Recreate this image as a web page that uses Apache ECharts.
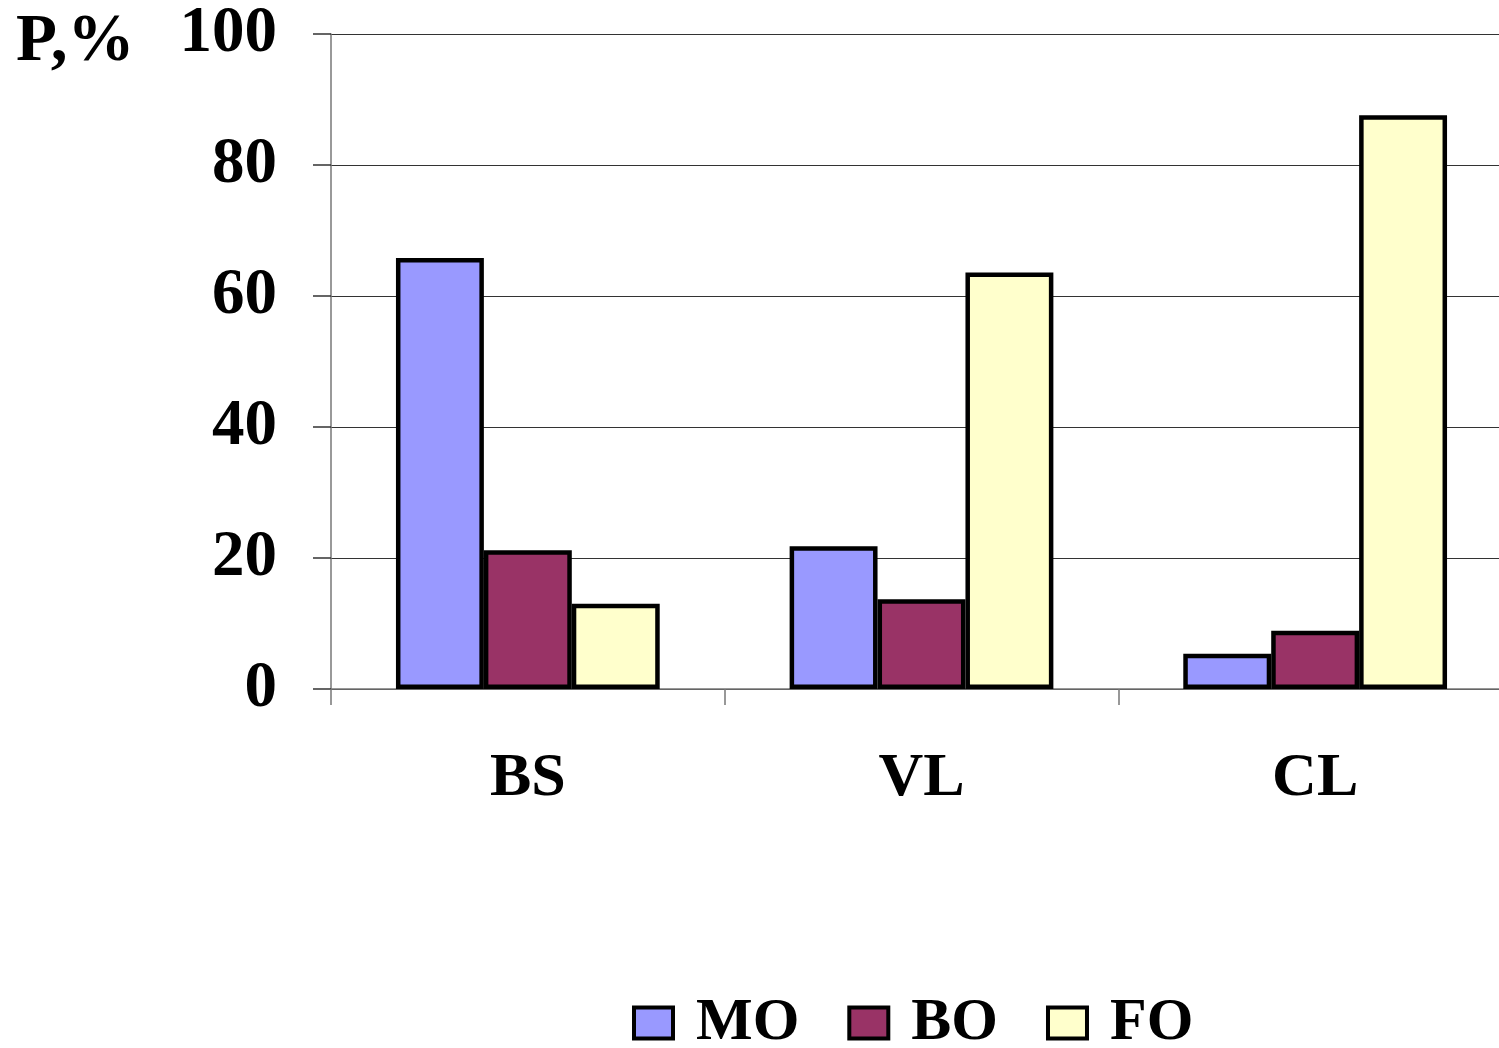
<!DOCTYPE html>
<html>
<head>
<meta charset="utf-8">
<script src="https://cdn.jsdelivr.net/npm/echarts@6/dist/echarts.min.js"></script>
<style>
  html, body { margin: 0; padding: 0; background: #fff; }
  #chart { width: 1499px; height: 1048px; }
</style>
</head>
<body>
<div id="chart"></div>
<script>
// Share of each fraction (%) by site
const categories = ['BS', 'VL', 'CL'];
const seriesNames = ['MO', 'BO', 'FO'];
const moValues = [65.8, 21.8, 5.4];
const boValues = [21.2, 13.7, 8.9];
const foValues = [13.0, 63.6, 87.6];
const yTicks = [0, 20, 40, 60, 80, 100];

const colors = ['#9999FF', '#993366', '#FFFFCC'];
const FONT = "'Liberation Serif', 'Times New Roman', serif";

const chart = echarts.init(document.getElementById('chart'), null, { renderer: 'canvas' });

function barSeries(name, data, color) {
  return {
    name: name,
    type: 'bar',
    data: data,
    barGap: '0%',
    barCategoryGap: '33%',
    itemStyle: { color: color, borderColor: '#000', borderWidth: 4.5 },
    emphasis: { disabled: true }
  };
}

chart.setOption({
  animation: false,
  backgroundColor: '#fff',
  // the plot area runs a little past the right edge of the canvas
  grid: { left: 331, width: 1181, top: 34, height: 655, containLabel: false, outerBoundsMode: 'none' },
  graphic: [{
    type: 'text',
    left: 16,
    top: 9,
    style: {
      text: 'P,%',
      font: 'bold 67px ' + FONT,
      fill: '#000'
    }
  }],
  legend: {
    data: seriesNames,
    top: 993,
    left: 632,
    padding: 0,
    itemWidth: 39,
    itemHeight: 31,
    itemGap: 48,
    icon: 'rect',
    itemStyle: { borderColor: '#000', borderWidth: 4 },
    textStyle: { fontFamily: FONT, fontWeight: 'bold', fontSize: 60, color: '#000', padding: [0, 0, 0, 18] }
  },
  xAxis: {
    type: 'category',
    data: categories,
    axisLine: { show: true, lineStyle: { color: '#777', width: 1.5 } },
    axisTick: { show: true, length: 16, lineStyle: { color: '#777', width: 1.5 } },
    axisLabel: {
      margin: 59,
      fontFamily: FONT, fontWeight: 'bold', fontSize: 62, color: '#000'
    },
    splitLine: { show: false }
  },
  yAxis: {
    type: 'value',
    min: yTicks[0],
    max: yTicks[yTicks.length - 1],
    interval: 20,
    axisLine: { show: true, lineStyle: { color: '#777', width: 1.5 } },
    axisTick: { show: true, length: 18, lineStyle: { color: '#333', width: 1.5 } },
    axisLabel: {
      margin: 54,
      fontFamily: FONT, fontWeight: 'bold', fontSize: 65, color: '#000'
    },
    splitLine: { show: true, lineStyle: { color: '#333', width: 1.2 } }
  },
  series: [
    barSeries(seriesNames[0], moValues, colors[0]),
    barSeries(seriesNames[1], boValues, colors[1]),
    barSeries(seriesNames[2], foValues, colors[2])
  ]
});
</script>
</body>
</html>
